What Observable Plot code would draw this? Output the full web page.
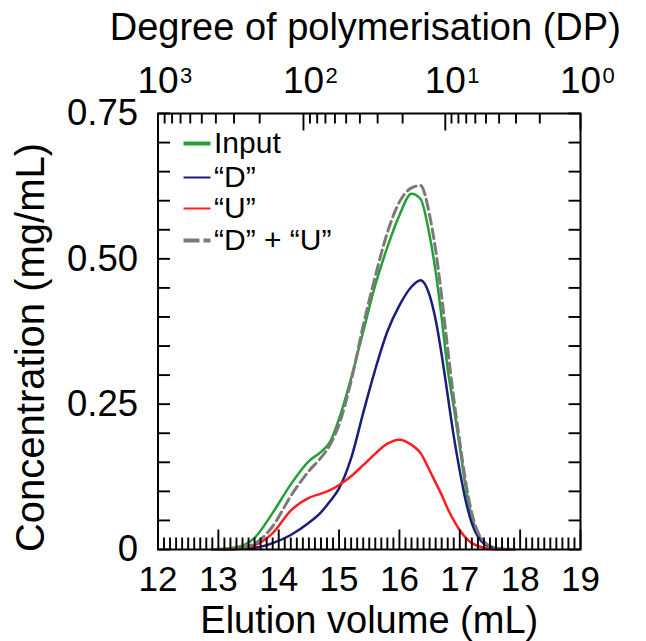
<!DOCTYPE html>
<html><head><meta charset="utf-8">
<script src="https://cdn.jsdelivr.net/npm/d3@7"></script>
<script src="https://cdn.jsdelivr.net/npm/@observablehq/plot@0.6"></script>
<style>body{margin:0;background:#fff}</style>
</head><body><div id="chart"></div>
<script>
// ---- data ----
const volume   = [12.9, 13.3, 13.6, 13.9, 14.2, 14.5, 14.7, 14.85, 15.0, 15.2, 15.4, 15.6, 15.8, 16.0, 16.2, 16.35, 16.5, 16.6, 16.7, 16.8, 16.9, 17.0, 17.1, 17.2, 17.3, 17.4, 17.5, 17.7, 17.9];
const inputConc = [0, 0.004, 0.02, 0.063, 0.112, 0.152, 0.168, 0.185, 0.225, 0.295, 0.375, 0.455, 0.52, 0.575, 0.612, 0.603, 0.54, 0.478, 0.398, 0.31, 0.245, 0.176, 0.105, 0.055, 0.027, 0.012, 0.006, 0.001, 0];
const dConc     = [0, 0.001, 0.003, 0.011, 0.025, 0.046, 0.064, 0.083, 0.105, 0.157, 0.235, 0.31, 0.375, 0.42, 0.452, 0.463, 0.437, 0.395, 0.335, 0.265, 0.195, 0.135, 0.083, 0.045, 0.022, 0.01, 0.005, 0.001, 0];
const uConc     = [0, 0.001, 0.007, 0.028, 0.067, 0.089, 0.096, 0.102, 0.111, 0.126, 0.145, 0.165, 0.182, 0.189, 0.18, 0.166, 0.136, 0.115, 0.094, 0.07, 0.05, 0.033, 0.02, 0.011, 0.006, 0.003, 0.001, 0, 0];
const duConc    = [0, 0.002, 0.01, 0.04, 0.092, 0.135, 0.158, 0.18, 0.215, 0.29, 0.385, 0.47, 0.545, 0.598, 0.622, 0.626, 0.575, 0.515, 0.435, 0.345, 0.26, 0.185, 0.115, 0.062, 0.03, 0.014, 0.006, 0.001, 0];

const seriesNames = ["Input", "\u201CD\u201D", "\u201CU\u201D", "\u201CD\u201D + \u201CU\u201D"];
const xTicks = [12, 13, 14, 15, 16, 17, 18, 19];
const yTicks = [0, 0.25, 0.5, 0.75];
const yTickLabels = ["0", "0.25", "0.50", "0.75"];
const dpExponents = ["3", "2", "1", "0"];
const dpDecadeVolume = [12, 14.41, 16.76, 19]; // elution volume of DP 10^3, 10^2, 10^1, 10^0

// ---- styles ----
const colors = ["#23a036", "#1c1c7c", "#ff1f1f", "#7a7a7a"];
const FONT = "Liberation Sans, Arial, Helvetica, sans-serif";

const rows = (vals) => volume.map((v, i) => ({v, c: vals[i]}));

const tickShape = {draw(ctx, l) { ctx.moveTo(0, 0); ctx.lineTo(0, -l); }};
const tickOpts = {anchor: "start", shape: tickShape, stroke: "black", strokeWidth: 1.9, fill: "none", strokeLinecap: "butt"};
const txt = {fontFamily: FONT, fill: "black", lineAnchor: "middle"};

const xMinor = d3.range(0, 71).filter(i => i % 10 !== 0).map(i => 12 + i / 10);
const yAll = d3.range(0, 16).map(i => i * 0.05);
const dpMinor = [];
for (let k = 0; k < 3; k++) for (let m = 2; m <= 9; m++)
  dpMinor.push(dpDecadeVolume[k + 1] - (dpDecadeVolume[k + 1] - dpDecadeVolume[k]) * Math.log10(m));

const legendDy = [30, 64, 95, 127];
const legendWidths = [4, 2, 2, 4];

const marks = [
  // curves
  Plot.line(rows(inputConc), {x: "v", y: "c", stroke: colors[0], strokeWidth: 2.5, curve: "monotone-x"}),
  Plot.line(rows(dConc), {x: "v", y: "c", stroke: colors[1], strokeWidth: 2.5, curve: "monotone-x"}),
  Plot.line(rows(uConc), {x: "v", y: "c", stroke: colors[2], strokeWidth: 2.5, curve: "monotone-x"}),
  Plot.line(rows(duConc), {x: "v", y: "c", stroke: colors[3], strokeWidth: 3, strokeDasharray: "10,5", curve: "monotone-x"}),
  // frame
  Plot.frame({stroke: "black", strokeWidth: 2}),
  // bottom ticks
  Plot.vectorX(xMinor, {x: d => d, frameAnchor: "bottom", rotate: 0, length: 12, ...tickOpts}),
  Plot.vectorX(xTicks, {x: d => d, frameAnchor: "bottom", rotate: 0, length: 20, ...tickOpts}),
  // top ticks (DP)
  Plot.vectorX(dpMinor, {x: d => d, frameAnchor: "top", rotate: 180, length: 10, ...tickOpts}),
  Plot.vectorX(dpDecadeVolume, {x: d => d, frameAnchor: "top", rotate: 180, length: 17, ...tickOpts}),
  // left/right ticks
  Plot.vectorY(yAll, {y: d => d, frameAnchor: "left", rotate: 90, length: 12, ...tickOpts}),
  Plot.vectorY(yAll, {y: d => d, frameAnchor: "right", rotate: -90, length: 12, ...tickOpts}),
  // bottom tick labels
  Plot.text(xTicks, {x: d => d, text: d => String(d), frameAnchor: "bottom", dy: 30, fontSize: 35, textAnchor: "middle", ...txt}),
  // left tick labels
  Plot.text(yTicks, {y: d => d, text: (d, i) => yTickLabels[i], frameAnchor: "left", dx: -20, textAnchor: "end", fontSize: 36.5, ...txt}),
  // top tick labels: "10" + exponent
  Plot.text(dpDecadeVolume, {x: d => d, text: () => "10", frameAnchor: "top", dy: -32, fontSize: 37, textAnchor: "middle", ...txt}),
  Plot.text(dpDecadeVolume, {x: d => d, text: (d, i) => dpExponents[i], frameAnchor: "top", dx: 22, dy: -38, textAnchor: "start", fontSize: 22, ...txt}),
  // axis titles
  Plot.text(["Degree of polymerisation (DP)"], {text: d => d, frameAnchor: "top", dx: -4, dy: -86, fontSize: 38, textAnchor: "middle", ...txt}),
  Plot.text(["Elution volume (mL)"], {text: d => d, frameAnchor: "bottom", dy: 71, fontSize: 38, textAnchor: "middle", ...txt}),
  Plot.text(["Concentration (mg/mL)"], {text: d => d, frameAnchor: "left", rotate: -90, dx: -127, dy: 16, fontSize: 40, textAnchor: "middle", ...txt}),
];

// legend
seriesNames.forEach((name, i) => {
  marks.push(Plot.vector([0], {frameAnchor: "top-left", dx: 25.5, dy: legendDy[i], rotate: 90, length: 27,
    anchor: "start", shape: tickShape, stroke: colors[i], strokeWidth: legendWidths[i], fill: "none", strokeLinecap: "butt",
    strokeDasharray: i === 3 ? "16,4" : null}));
  marks.push(Plot.text([name], {text: d => d, frameAnchor: "top-left", dx: 56, dy: legendDy[i], textAnchor: "start",
    fontSize: 30, ...txt}));
});

const chart = Plot.plot({
  width: 646,
  height: 641,
  marginLeft: 157.5,
  marginRight: 66,
  marginTop: 113,
  marginBottom: 92,
  x: {domain: [12, 19], axis: null},
  y: {domain: [0, 0.75], axis: null},
  style: {background: "white", fontFamily: FONT, color: "black", overflow: "visible"},
  marks
});
document.getElementById("chart").appendChild(chart);
</script>
</body></html>
